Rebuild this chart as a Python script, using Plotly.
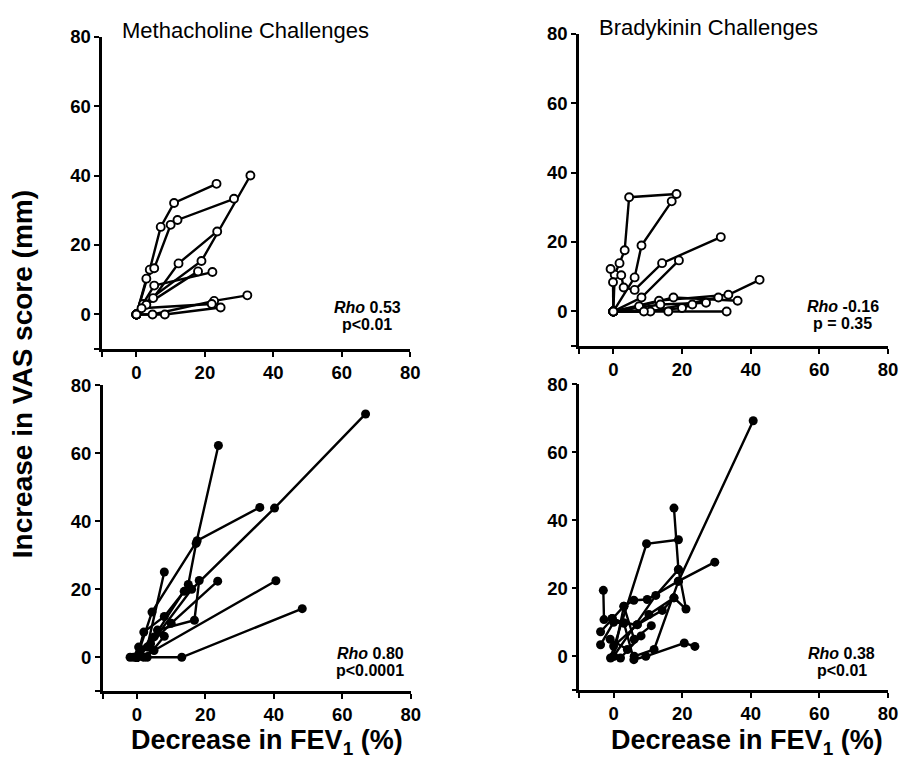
import plotly.graph_objects as go

# ---------------- data (x = decrease in FEV1 %, y = increase in VAS mm) ----------------
# Methacholine challenges, upper panel (open circles): one list per subject
MCH_TOP_X = [
    [0, 3.9, 7.1, 11.0, 23.4],
    [0, 2.9, 5.2, 10.0, 12.0, 28.5],
    [0, 2.0, 19.0, 33.3],
    [0, 4.9, 12.3, 23.6],
    [0, 5.2, 22.2],
    [0, 2.9, 18.0],
    [0, 4.7, 22.7, 32.4],
    [0, 8.3, 24.6],
    [0, 1.5, 22.0],
]
MCH_TOP_Y = [
    [0, 12.9, 25.2, 32.1, 37.6],
    [0, 10.3, 13.3, 25.8, 27.2, 33.3],
    [0, 3.0, 15.4, 40.0],
    [0, 4.7, 14.7, 23.9],
    [0, 8.3, 12.2],
    [0, 2.8, 12.4],
    [0, 0, 3.9, 5.5],
    [0, 0, 2.0],
    [0, 1.8, 3.0],
]

# Bradykinin challenges, upper panel (open circles)
BK_TOP_X = [
    [0, 0.4, 1.8, 3.3, 4.6, 18.4],
    [0, 6.2, 8.2, 17.0],
    [-0.8, 2.3, 3.0, 6.2, 14.2, 31.3],
    [0, 8.2, 19.1],
    [0, 13.3, 33.5, 42.6],
    [0, 7.5, 17.5, 36.2],
    [0, 10.8, 30.6],
    [0, 16.0, 33.0],
    [0, 8.9, 20.0, 23.0],
    [0, -0.1],
    [0, 13.7, 27.0],
]
BK_TOP_Y = [
    [0, 10.6, 13.9, 17.6, 32.9, 33.8],
    [0, 9.8, 19.0, 31.7],
    [12.2, 10.4, 6.9, 6.2, 13.9, 21.4],
    [0, 4.0, 14.7],
    [0, 3.1, 4.8, 9.1],
    [0, 1.5, 4.0, 3.1],
    [0, 0, 4.0],
    [0, 0, 0],
    [0, 0, 1.0, 2.0],
    [0, 8.4],
    [0, 2.0, 2.5],
]

# Methacholine challenges, lower panel (filled circles)
MCH_BOT_X = [
    [0, 4.0, 16.0, 40.2, 66.8],
    [0, 5.0, 15.0, 17.3, 23.8],
    [0, 4.4, 17.6, 35.9],
    [0, 6.0, 16.8, 18.2],
    [0, 3.0, 8.0],
    [0, 10.0, 23.6],
    [0, 5.0, 40.6],
    [0, 13.1, 48.3],
    [0, 2.0, 8.0, 13.8],
    [-2.0, 1.0, 3.0, 8.0],
    [-1.0, 0.5, 2.0],
]
MCH_BOT_Y = [
    [0, 4.0, 20.0, 43.9, 71.6],
    [0, 6.0, 21.4, 33.5, 62.3],
    [0, 13.3, 34.3, 44.1],
    [0, 8.0, 10.9, 22.6],
    [0, 3.0, 25.1],
    [0, 10.0, 22.4],
    [0, 2.0, 22.5],
    [0, 0, 14.3],
    [0, 7.4, 12.0, 19.4],
    [0, 2.0, 0, 6.2],
    [0, 3.0, 0],
]

# Bradykinin challenges, lower panel (filled circles)
BK_BOT_X = [
    [6.0, 11.8, 18.9, 40.7],
    [-3.0, -2.8, -0.4, 3.0, 6.9],
    [-0.9, 9.6, 18.9],
    [0, 12.3, 18.9, 17.6],
    [0, 10.3, 17.6, 21.1, 18.9],
    [-3.8, 3.0, 5.9, 9.8, 18.9, 29.5],
    [-3.8, 0, 6.9, 14.2, 17.6],
    [-0.4, 3.0, 5.9, 9.4, 20.6, 23.7],
    [0, 3.0, 6.0, 11.0],
    [-1.0, 4.0, 8.0, 2.0],
]
BK_BOT_Y = [
    [0, 2.0, 22.1, 69.3],
    [19.4, 10.8, 11.1, 9.8, 9.3],
    [-0.5, 33.1, 34.3],
    [0, 17.9, 25.5, 43.6],
    [3.0, 12.3, 17.2, 13.9, 25.5],
    [7.2, 14.7, 16.5, 16.7, 22.1, 27.7],
    [3.4, 10.0, 9.3, 13.5, 17.2],
    [11.1, 9.8, -1.0, 0, 3.9, 2.9],
    [0, 14.7, 5.0, 9.0],
    [5.0, 2.0, 6.0, -0.5],
]

TICK_VALS = [0, 20, 40, 60, 80]
TICK_TEXT = ["0", "20", "40", "60", "80"]
END_TICK = [-10]

PANEL_TITLES = ["Methacholine Challenges", "Bradykinin Challenges"]
RHO_TEXT = ["0.53", "-0.16", "0.80", "0.38"]
P_TEXT = ["p&lt;0.01", "p = 0.35", "p&lt;0.0001", "p&lt;0.01"]

# ---------------- figure ----------------
FONT = "Liberation Sans, Arial, Helvetica, sans-serif"
W, H = 899, 758


# target screen positions -> layout pixel positions (calibrated to the viewer)
def LX(r):
    return (r + 0.8) / 0.988


def LY(r):
    return (r - 9.4) / 0.986


panels = [
    dict(xs=MCH_TOP_X, ys=MCH_TOP_Y, filled=False, n=1,
         xd=[101.3, 409.1], yd=[35.0, 347.75]),
    dict(xs=BK_TOP_X, ys=BK_TOP_Y, filled=False, n=2,
         xd=[577.7, 886.4], yd=[32.0, 344.75]),
    dict(xs=MCH_BOT_X, ys=MCH_BOT_Y, filled=True, n=3,
         xd=[101.8, 409.6], yd=[384.0, 690.0]),
    dict(xs=BK_BOT_X, ys=BK_BOT_Y, filled=True, n=4,
         xd=[578.0, 886.4], yd=[383.0, 689.0]),
]

fig = go.Figure()
layout = {}

for p in panels:
    n = p["n"]
    xa = "x" if n == 1 else f"x{n}"
    ya = "y" if n == 1 else f"y{n}"
    lx, ly = [], []
    mx, my = [], []
    for sx, sy in zip(p["xs"], p["ys"]):
        lx += list(sx) + [None]
        ly += list(sy) + [None]
        mx += list(sx)
        my += list(sy)
    fig.add_trace(go.Scatter(x=lx, y=ly, mode="lines", xaxis=xa, yaxis=ya,
                             line=dict(color="black", width=2.4),
                             hoverinfo="skip", showlegend=False))
    if p["filled"]:
        marker = dict(symbol="circle", size=9, color="black",
                      line=dict(color="black", width=0))
    else:
        marker = dict(symbol="circle", size=8, color="white",
                      line=dict(color="black", width=1.9))
    fig.add_trace(go.Scatter(x=mx, y=my, mode="markers", xaxis=xa, yaxis=ya,
                             marker=marker, showlegend=False))

    common = dict(range=[-10, 80], showline=True, linewidth=2.5, linecolor="black",
                  ticks="outside", ticklen=5, tickwidth=2, tickcolor="black",
                  tickvals=TICK_VALS, ticktext=TICK_TEXT, showgrid=False,
                  zeroline=False, fixedrange=True,
                  minor=dict(tickvals=END_TICK, ticks="outside", ticklen=5,
                             tickwidth=2, tickcolor="black", showgrid=False),
                  tickfont=dict(family=FONT, size=18.5, color="black", weight="bold"))
    x0, x1 = LX(p["xd"][0]), LX(p["xd"][1])
    y0, y1 = LY(p["yd"][0]), LY(p["yd"][1])
    layout["xaxis" if n == 1 else f"xaxis{n}"] = dict(
        common, domain=[x0 / W, min(x1 / W, 1.0)], anchor=ya)
    layout["yaxis" if n == 1 else f"yaxis{n}"] = dict(
        common, domain=[max(1 - y1 / H, 0.0), 1 - y0 / H], anchor=xa)

ann = []


def add_text(text, px, py, size, bold=False, angle=0):
    ann.append(dict(text=text, x=LX(px) / W, y=1 - LY(py) / H,
                    xref="paper", yref="paper",
                    showarrow=False, xanchor="center", yanchor="middle",
                    textangle=angle,
                    font=dict(family=FONT, size=size, color="black",
                              weight="bold" if bold else "normal")))


add_text(PANEL_TITLES[0], 244, 29, 22)
add_text(PANEL_TITLES[1], 707, 26, 22)

rho_pos = [(366, 306, 323), (841, 305, 322), (369, 652, 669), (840, 652, 669)]
for (cx, ry, py), r, pt in zip(rho_pos, RHO_TEXT, P_TEXT):
    add_text(f"<i>Rho</i> {r}", cx, ry, 16, bold=True)
    add_text(pt, cx, py, 16, bold=True)

add_text("Increase in VAS score (mm)", 22, 373, 28, bold=True, angle=-90)
add_text("Decrease in FEV<sub>1</sub> (%)", 266, 741, 27, bold=True)
add_text("Decrease in FEV<sub>1</sub> (%)", 746, 741, 27, bold=True)

fig.update_layout(
    width=W, height=H,
    margin=dict(l=0, r=0, t=0, b=0),
    paper_bgcolor="white", plot_bgcolor="white",
    showlegend=False,
    annotations=ann,
    **layout,
)

fig.write_html("out.html",
               config={"displayModeBar": False},
               post_script="document.body.style.margin='0';"
                           "document.body.style.overflow='hidden';")
